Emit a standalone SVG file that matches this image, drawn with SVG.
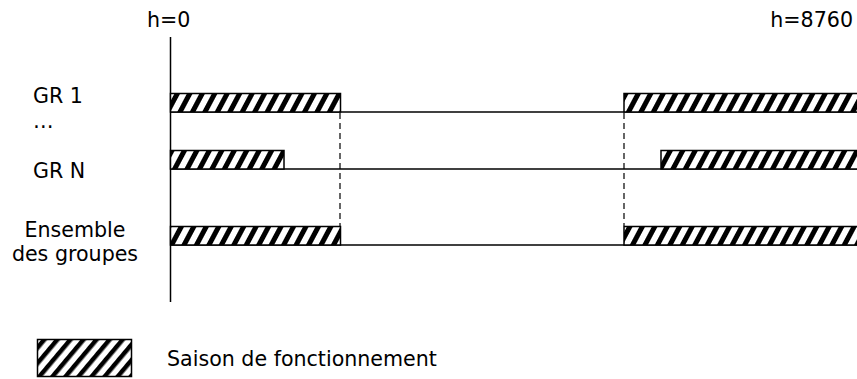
<svg xmlns="http://www.w3.org/2000/svg" width="857" height="379" viewBox="0 0 857 379">
<style>
text{font-family:"DejaVu Sans",Verdana,sans-serif;font-size:20.6px;fill:#000}
.bar{fill:url(#hatch);stroke:#000;stroke-width:1.5}
.ln{stroke:#000;stroke-width:1.5;fill:none}
.dash{stroke:#000;stroke-width:1.2;stroke-dasharray:6,4;fill:none}
</style>
<defs>
<pattern id="hatch" patternUnits="userSpaceOnUse" width="11" height="11" patternTransform="rotate(28)">
<rect width="11" height="11" fill="#fff"/>
<rect width="5" height="11" fill="#000"/>
</pattern>
<pattern id="hatch2" patternUnits="userSpaceOnUse" width="10" height="10" patternTransform="rotate(40)">
<rect width="10" height="10" fill="#fff"/>
<rect width="4.5" height="10" fill="#000"/>
</pattern>
</defs>
<g id="labels">
<text x="147" y="27">h=0</text>
<text x="853" y="27" text-anchor="end">h=8760</text>
<text x="33" y="103">GR 1</text>
<text x="33" y="128">…</text>
<text x="33" y="178">GR N</text>
<text x="75" y="237" text-anchor="middle">Ensemble</text>
<text x="75" y="261" text-anchor="middle">des groupes</text>
</g>
<g id="connectors">
<line class="ln" x1="170.5" y1="37" x2="170.5" y2="302"/>
<line class="ln" x1="170" y1="112" x2="857" y2="112"/>
<line class="ln" x1="170" y1="169" x2="857" y2="169"/>
<line class="ln" x1="170" y1="245" x2="857" y2="245"/>
<line class="dash" x1="340" y1="113" x2="340" y2="226"/>
<line class="dash" x1="624" y1="113" x2="624" y2="226"/>
</g>
<g id="gr1">
<rect class="bar" x="170.5" y="93.5" width="170" height="18.5"/>
<rect class="bar" x="624" y="93.5" width="234" height="18.5"/>
</g>
<g id="grn">
<rect class="bar" x="170.5" y="150.5" width="113.5" height="18.5"/>
<rect class="bar" x="661" y="150.5" width="197" height="18.5"/>
</g>
<g id="ensemble">
<rect class="bar" x="170.5" y="226.5" width="170" height="18.5"/>
<rect class="bar" x="624" y="226.5" width="234" height="18.5"/>
</g>
<g id="legend">
<rect x="37.5" y="339.5" width="94" height="37" fill="url(#hatch2)" stroke="#000" stroke-width="1.5"/>
<text x="167" y="366">Saison de fonctionnement</text>
</g>
</svg>
